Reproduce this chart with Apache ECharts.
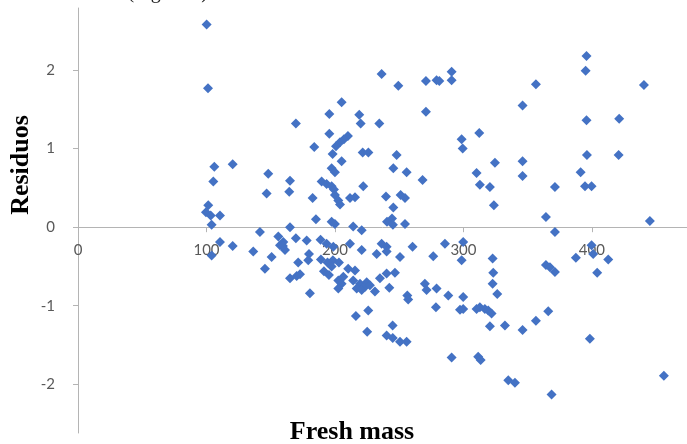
<!DOCTYPE html>
<html><head><meta charset="utf-8">
<script src="https://cdn.jsdelivr.net/npm/echarts@6/dist/echarts.min.js"></script>
<style>html,body{margin:0;padding:0;background:#fff}#c{width:687px;height:444px}</style>
</head><body><div id="c"></div>
<script>
const freshMass = [
100.1,101.2,106.1,120.4,105.3,101.4,99.6,103.3,110.5,104.0,110.5,120.4,104.0,
148.1,146.8,141.6,136.4,150.7,145.5,165.0,164.4,169.6,165.0,155.9,159.8,157.2,161.1,159.5,169.6,165.0,170.2,172.8,171.4,
183.9,195.6,205.2,218.9,220.0,234.5,195.6,210.1,207.0,203.9,200.8,221.6,226.0,198.2,205.2,197.4,200.0,189.6,193.5,197.4,199.2,222.0,182.6,200.0,202.6,203.9,211.7,215.6,185.2,197.4,200.0,214.2,220.8,236.3,249.3,248.0,245.4,239.7,245.4,240.5,244.4,245.1,
178.0,179.8,179.2,188.8,193.5,198.7,211.7,220.8,232.5,236.3,240.2,240.2,250.6,189.1,194.2,198.4,203.1,191.4,195.3,197.4,210.3,215.6,202.6,206.5,205.2,202.6,214.2,219.5,224.7,223.3,227.2,216.9,220.8,231.1,235.0,240.2,242.3,246.7,180.5,216.3,225.9,225.1,244.9,240.2,245.0,250.6,255.8,
270.8,279.1,281.2,290.8,290.8,270.8,312.3,298.6,299.4,255.8,268.2,251.1,254.5,310.2,324.5,312.8,320.6,346.0,356.4,346.0,346.0,371.2,395.8,395.1,395.8,396.1,391.2,394.6,399.7,421.2,420.8,440.5,254.5,323.7,364.2,445.1,371.2,
260.4,256.3,257.0,285.6,276.5,299.8,298.6,290.8,311.5,313.4,322.7,323.2,322.7,326.3,320.6,332.3,346.0,356.4,366.0,299.8,297.3,299.8,288.2,278.6,270.0,271.3,279.1,310.2,312.8,316.7,319.3,321.9,334.9,340.1,368.6,364.2,367.3,371.2,399.7,401.0,387.5,404.1,412.7,398.4,456.0
];
const residuals = [
2.58,1.77,0.77,0.80,0.58,0.28,0.19,0.15,0.15,0.03,-0.19,-0.24,-0.36,
0.68,0.43,-0.06,-0.31,-0.38,-0.53,0.59,0.45,1.32,0.00,-0.12,-0.19,-0.23,-0.29,-0.24,-0.14,-0.65,-0.62,-0.60,-0.45,
1.02,1.44,1.59,1.43,1.32,1.32,1.19,1.16,1.12,1.08,1.03,0.95,0.95,0.93,0.84,0.75,0.70,0.58,0.55,0.52,0.48,0.52,0.37,0.41,0.34,0.29,0.37,0.38,0.10,0.07,0.04,0.01,-0.04,1.95,1.80,0.92,0.75,0.39,0.25,0.07,0.11,0.03,
-0.17,-0.34,-0.42,-0.16,-0.21,-0.25,-0.21,-0.29,-0.34,-0.21,-0.25,-0.31,-0.38,-0.41,-0.45,-0.42,-0.45,-0.56,-0.61,-0.50,-0.53,-0.55,-0.68,-0.63,-0.72,-0.78,-0.68,-0.72,-0.70,-0.76,-0.74,-0.78,-0.80,-0.82,-0.65,-0.59,-0.77,-0.58,-0.84,-1.13,-1.06,-1.33,-1.25,-1.38,-1.41,-1.46,-1.46,
1.86,1.87,1.86,1.98,1.87,1.47,1.20,1.12,1.00,0.70,0.60,0.41,0.37,0.69,0.82,0.54,0.51,1.55,1.82,0.84,0.65,0.51,2.18,1.99,1.36,0.92,0.70,0.52,0.52,1.38,0.92,1.81,0.04,0.28,0.13,0.08,-0.06,
-0.25,-0.87,-0.92,-0.21,-0.37,-0.19,-0.42,-1.66,-1.65,-1.69,-0.40,-0.58,-0.72,-0.85,-1.26,-1.25,-1.31,-1.19,-1.07,-0.89,-1.05,-1.04,-0.87,-1.02,-0.72,-0.80,-0.78,-1.04,-1.02,-1.04,-1.06,-1.10,-1.95,-1.98,-2.13,-0.48,-0.51,-0.57,-0.23,-0.34,-0.39,-0.58,-0.41,-1.42,-1.89
];
const xTicks = [0, 100, 200, 300, 400];
const yTicks = [-2, -1, 0, 1, 2];
const xTitle = 'Fresh mass';
const yTitle = 'Residuos';
const topText = 'fresh mass (Figure 4).';

const points = freshMass.map((x, i) => [x, residuals[i]]);
const axisGray = '#b4b4b4';
const labelStyle = { color: '#595959', fontSize: 15, fontFamily: 'Lato, "Open Sans", sans-serif' };

const gridTop = 8, gridBottom = 11, yMin = -2.62, yMax = 2.79;
const gridHeight = 444 - gridTop - gridBottom;
// distance from grid bottom up to the y = 0 line, so the x axis sits on zero
const zeroOffset = -gridHeight * (0 - yMin) / (yMax - yMin);

const chart = echarts.init(document.getElementById('c'), null, { renderer: 'canvas' });
chart.setOption({
  animation: false,
  backgroundColor: '#ffffff',
  grid: { left: 78, right: 0, top: gridTop, bottom: gridBottom, containLabel: false, outerBoundsMode: 'none' },
  xAxis: {
    type: 'value', min: 0, max: 474, position: 'bottom', offset: zeroOffset,
    axisLine: { show: true, onZero: false, lineStyle: { color: axisGray, width: 1 } },
    axisTick: { show: true, length: 5, customValues: xTicks, lineStyle: { color: axisGray } },
    axisLabel: Object.assign({ customValues: xTicks, margin: 15 }, labelStyle),
    splitLine: { show: false }
  },
  yAxis: {
    type: 'value', min: yMin, max: yMax,
    axisLine: { show: true, onZero: false, lineStyle: { color: axisGray, width: 1 } },
    axisTick: { show: true, length: 5, customValues: yTicks, lineStyle: { color: axisGray } },
    axisLabel: Object.assign({ customValues: yTicks, margin: 23 }, labelStyle),
    splitLine: { show: false }
  },
  graphic: [
    { type: 'text', x: 21, y: 165, rotation: Math.PI / 2, silent: true,
      style: { text: yTitle, font: 'bold 26px "Liberation Serif", serif', fill: '#000', textAlign: 'center', textVerticalAlign: 'middle' } },
    { type: 'text', x: 352, y: 432, silent: true,
      style: { text: xTitle, font: 'bold 26px "Liberation Serif", serif', fill: '#000', textAlign: 'center', textVerticalAlign: 'middle' } },
    { type: 'text', x: 213, y: 3, silent: true,
      style: { text: topText, font: '20px "Liberation Serif", serif', fill: '#222', textAlign: 'right', textVerticalAlign: 'bottom' } }
  ],
  series: [{
    type: 'scatter',
    symbol: 'diamond',
    symbolSize: 10,
    itemStyle: { color: '#4472C4', opacity: 1 },
    data: points
  }]
});
</script>
</body></html>
